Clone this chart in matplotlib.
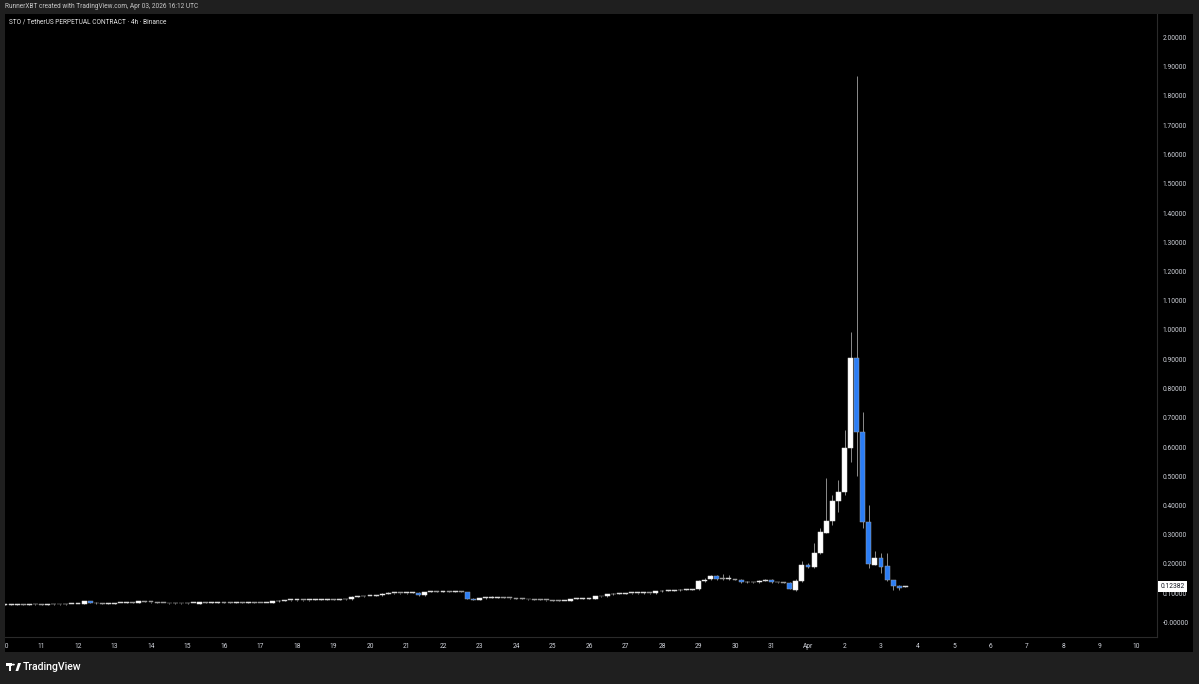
import matplotlib

matplotlib.use("Agg")
import matplotlib.pyplot as plt
from matplotlib.patches import Rectangle, Circle, Polygon
import numpy as np

W, H = 1199, 684

# 4h candles starting Mar 10 00:00 (one row per day)
OPENS = [
    0.061, 0.061, 0.061, 0.062, 0.061, 0.062,
    0.062, 0.061, 0.062, 0.063, 0.062, 0.063,
    0.063, 0.063, 0.073, 0.068, 0.065, 0.064,
    0.064, 0.066, 0.067, 0.068, 0.066, 0.072,
    0.070, 0.069, 0.067, 0.066, 0.065, 0.066,
    0.065, 0.066, 0.064, 0.069, 0.068, 0.068,
    0.069, 0.068, 0.067, 0.068, 0.067, 0.068,
    0.067, 0.066, 0.066, 0.072, 0.075, 0.076,
    0.076, 0.077, 0.076, 0.077, 0.078, 0.078,
    0.079, 0.078, 0.079, 0.079, 0.088, 0.089,
    0.090, 0.091, 0.093, 0.099, 0.100, 0.101,
    0.100, 0.101, 0.102, 0.093, 0.104, 0.105,
    0.104, 0.105, 0.104, 0.105, 0.103, 0.082,
    0.077, 0.083, 0.084, 0.085, 0.085, 0.084,
    0.083, 0.082, 0.080, 0.079, 0.078, 0.077,
    0.076, 0.075, 0.074, 0.074, 0.080, 0.081,
    0.082, 0.082, 0.090, 0.089, 0.096, 0.098,
    0.099, 0.100, 0.100, 0.100, 0.101, 0.100,
    0.106, 0.108, 0.109, 0.110, 0.111, 0.112,
    0.113, 0.143, 0.148, 0.160, 0.149, 0.148,
    0.148, 0.146, 0.137, 0.137, 0.137, 0.143,
    0.147, 0.137, 0.137, 0.136, 0.112, 0.142,
    0.197, 0.189, 0.237, 0.307, 0.347, 0.416,
    0.445, 0.598, 0.903, 0.652, 0.345, 0.197,
    0.220, 0.193, 0.145, 0.126, 0.1225,
]
HIGHS = [
    0.063, 0.063, 0.063, 0.063, 0.063, 0.063,
    0.063, 0.063, 0.064, 0.064, 0.064, 0.064,
    0.064, 0.075, 0.074, 0.069, 0.066, 0.065,
    0.067, 0.068, 0.069, 0.069, 0.073, 0.073,
    0.071, 0.070, 0.068, 0.067, 0.067, 0.067,
    0.067, 0.067, 0.070, 0.070, 0.069, 0.070,
    0.070, 0.069, 0.069, 0.069, 0.069, 0.069,
    0.068, 0.068, 0.073, 0.077, 0.077, 0.078,
    0.078, 0.078, 0.078, 0.080, 0.079, 0.080,
    0.080, 0.080, 0.080, 0.090, 0.091, 0.091,
    0.092, 0.093, 0.100, 0.104, 0.102, 0.102,
    0.102, 0.104, 0.103, 0.105, 0.108, 0.106,
    0.106, 0.106, 0.106, 0.106, 0.104, 0.083,
    0.085, 0.086, 0.089, 0.087, 0.086, 0.085,
    0.084, 0.083, 0.081, 0.080, 0.079, 0.078,
    0.077, 0.076, 0.075, 0.081, 0.083, 0.083,
    0.083, 0.092, 0.091, 0.098, 0.100, 0.100,
    0.101, 0.102, 0.101, 0.103, 0.102, 0.107,
    0.110, 0.110, 0.112, 0.116, 0.113, 0.115,
    0.145, 0.152, 0.161, 0.161, 0.165, 0.163,
    0.149, 0.149, 0.141, 0.140, 0.145, 0.148,
    0.149, 0.139, 0.139, 0.137, 0.148, 0.211,
    0.205, 0.273, 0.323, 0.493, 0.436, 0.487,
    0.658, 0.994, 1.868, 0.721, 0.402, 0.245,
    0.237, 0.237, 0.146, 0.127, 0.125,
]
LOWS = [
    0.059, 0.059, 0.060, 0.060, 0.060, 0.060,
    0.060, 0.060, 0.061, 0.061, 0.061, 0.062,
    0.062, 0.062, 0.067, 0.064, 0.063, 0.062,
    0.063, 0.065, 0.066, 0.066, 0.065, 0.069,
    0.068, 0.066, 0.065, 0.064, 0.064, 0.064,
    0.064, 0.065, 0.063, 0.067, 0.067, 0.067,
    0.067, 0.066, 0.066, 0.066, 0.066, 0.066,
    0.065, 0.065, 0.065, 0.071, 0.074, 0.075,
    0.075, 0.075, 0.075, 0.076, 0.077, 0.077,
    0.077, 0.077, 0.078, 0.078, 0.087, 0.088,
    0.089, 0.090, 0.092, 0.098, 0.099, 0.099,
    0.099, 0.100, 0.092, 0.092, 0.103, 0.103,
    0.103, 0.103, 0.103, 0.103, 0.080, 0.076,
    0.076, 0.082, 0.083, 0.084, 0.083, 0.082,
    0.081, 0.079, 0.078, 0.077, 0.076, 0.075,
    0.074, 0.073, 0.073, 0.073, 0.079, 0.080,
    0.081, 0.081, 0.088, 0.088, 0.095, 0.097,
    0.098, 0.099, 0.099, 0.099, 0.099, 0.099,
    0.105, 0.107, 0.108, 0.109, 0.110, 0.111,
    0.112, 0.139, 0.146, 0.147, 0.146, 0.146,
    0.144, 0.135, 0.135, 0.135, 0.136, 0.142,
    0.135, 0.135, 0.134, 0.113, 0.109, 0.140,
    0.185, 0.187, 0.235, 0.305, 0.333, 0.379,
    0.436, 0.550, 0.502, 0.322, 0.185, 0.195,
    0.170, 0.143, 0.111, 0.111, 0.121,
]
CLOSES = [
    0.061, 0.061, 0.062, 0.061, 0.062, 0.062,
    0.061, 0.062, 0.063, 0.062, 0.063, 0.063,
    0.063, 0.073, 0.068, 0.065, 0.064, 0.064,
    0.066, 0.067, 0.068, 0.067, 0.072, 0.070,
    0.069, 0.067, 0.066, 0.065, 0.066, 0.065,
    0.066, 0.066, 0.069, 0.068, 0.068, 0.069,
    0.068, 0.067, 0.068, 0.067, 0.068, 0.067,
    0.066, 0.067, 0.072, 0.075, 0.076, 0.076,
    0.077, 0.076, 0.077, 0.078, 0.078, 0.079,
    0.078, 0.079, 0.079, 0.088, 0.089, 0.090,
    0.091, 0.092, 0.099, 0.100, 0.101, 0.100,
    0.101, 0.102, 0.094, 0.104, 0.105, 0.104,
    0.105, 0.104, 0.105, 0.104, 0.082, 0.078,
    0.083, 0.084, 0.085, 0.085, 0.084, 0.083,
    0.082, 0.080, 0.079, 0.078, 0.077, 0.076,
    0.075, 0.074, 0.074, 0.080, 0.081, 0.082,
    0.082, 0.090, 0.089, 0.096, 0.098, 0.099,
    0.100, 0.100, 0.100, 0.101, 0.100, 0.106,
    0.108, 0.109, 0.110, 0.111, 0.112, 0.113,
    0.143, 0.147, 0.159, 0.149, 0.148, 0.148,
    0.146, 0.137, 0.137, 0.138, 0.143, 0.145,
    0.137, 0.137, 0.136, 0.115, 0.142, 0.197,
    0.190, 0.239, 0.308, 0.348, 0.416, 0.446,
    0.598, 0.903, 0.652, 0.345, 0.199, 0.220,
    0.191, 0.145, 0.125, 0.119, 0.12382,
]

DAY_LABELS = [str(d) for d in range(10, 32)] + ["Apr"] + [str(d) for d in range(2, 11)]
PRICE_TICKS = [round(0.1 * i, 1) for i in range(21)]
PRICE_LABELS = ["-0.00000"] + [f"{v:.5f}" for v in PRICE_TICKS[1:]]
LAST_PRICE = 0.12382

UP_COLOR = "#ffffff"
DOWN_COLOR = "#2b7df5"
WICK_COLOR = "#8c8c8c"
TEXT_COLOR = "#d1d4dc"
FRAME_BG = "#1f1f1f"
GRID_LINE = "#2a2a2a"


def fx(px):
    return px / W


def fy(py):
    return 1 - py / H


fig = plt.figure(figsize=(W / 100, H / 100), dpi=100, facecolor=FRAME_BG)

# black chart panel (plot + axis strips)
fig.patches.append(
    Rectangle((fx(5), fy(652)), fx(1193) - fx(5), fy(14) - fy(652),
              transform=fig.transFigure, facecolor="black", edgecolor="none", zorder=-5)
)

ax = fig.add_axes([fx(5), fy(637), fx(1157) - fx(5), fy(14) - fy(637)])
ax.set_facecolor("black")

t = np.arange(len(CLOSES)) / 6.0
body_w = 0.135
for ti, o, h, l, c in zip(t, OPENS, HIGHS, LOWS, CLOSES):
    up = c >= o
    ax.vlines(ti, l, h, color=WICK_COLOR, linewidth=0.7, zorder=2)
    bottom = min(o, c)
    tiny = abs(c - o) < 0.004
    height = max(abs(c - o), 0.0028)
    if tiny:
        face = "#d8d8d8" if up else "#9a9a9a"
        edge = face
    else:
        face = UP_COLOR if up else DOWN_COLOR
        edge = "#e0e0e0" if up else "#9aa0a6"
    ax.add_patch(
        Rectangle((ti - body_w / 2, bottom), body_w, height,
                  facecolor=face, edgecolor=edge, linewidth=0.35, zorder=3)
    )

ax.set_xlim(0, (1157 - 5) / 36.5)
ax.set_ylim((622.5 - 637) / 292.5, (622.5 - 14) / 292.5)

ax.set_xticks(np.arange(len(DAY_LABELS)))
ax.set_xticklabels(DAY_LABELS)
ax.yaxis.tick_right()
ax.set_yticks(PRICE_TICKS)
ax.set_yticklabels(PRICE_LABELS)
ax.tick_params(axis="x", length=0, pad=4, labelsize=4.8, labelcolor=TEXT_COLOR)
ax.tick_params(axis="y", length=0, pad=4, labelsize=4.8, labelcolor=TEXT_COLOR)
for lab in ax.get_xticklabels() + ax.get_yticklabels():
    lab.set_fontfamily("Roboto")

for side in ["top", "left"]:
    ax.spines[side].set_visible(False)
for side in ["right", "bottom"]:
    ax.spines[side].set_color(GRID_LINE)
    ax.spines[side].set_linewidth(0.8)

ax.annotate(
    f"{LAST_PRICE:.5f}",
    xy=(1.0, LAST_PRICE), xycoords=("axes fraction", "data"),
    xytext=(2.5, 0), textcoords="offset points",
    ha="left", va="center", fontsize=4.8, family="Roboto", color="#131722",
    bbox=dict(boxstyle="square,pad=0.3", facecolor="white", edgecolor="none"),
    annotation_clip=False,
)

# left gray strip hides the clipped "1" of the first day label
fig.patches.append(
    Rectangle((0, fy(652)), fx(5), fy(14) - fy(652),
              transform=fig.transFigure, facecolor=FRAME_BG, edgecolor="none", zorder=10)
)

fig.text(fx(5), fy(7), "RunnerXBT created with TradingView.com, Apr 03, 2026 16:12 UTC",
         fontsize=4.7, family="Roboto", color="#c8c8c8", va="center", ha="left")
fig.text(fx(9), fy(22), "STO / TetherUS PERPETUAL CONTRACT · 4h · Binance",
         fontsize=4.7, family="Roboto", color="#e6e6e6", va="center", ha="left")

# footer logo
logo = [
    Rectangle((fx(6), fy(666)), fx(5.5), fy(663) - fy(666)),
    Rectangle((fx(8.5), fy(671)), fx(2.5), fy(663) - fy(671)),
    Circle((fx(13.3), fy(664.6)), fx(1.6)),
    Polygon([(fx(15.5), fy(671)), (fx(18), fy(663)), (fx(21), fy(663)), (fx(18.2), fy(671))], closed=True),
]
for p in logo:
    p.set_transform(fig.transFigure)
    p.set_facecolor("white")
    p.set_edgecolor("none")
    fig.patches.append(p)
fig.text(fx(23), fy(667.5), "TradingView", fontsize=7.6, family="Roboto",
         fontweight="medium", color="white", va="center", ha="left")

fig.savefig("out.png", dpi=100, facecolor=FRAME_BG)
